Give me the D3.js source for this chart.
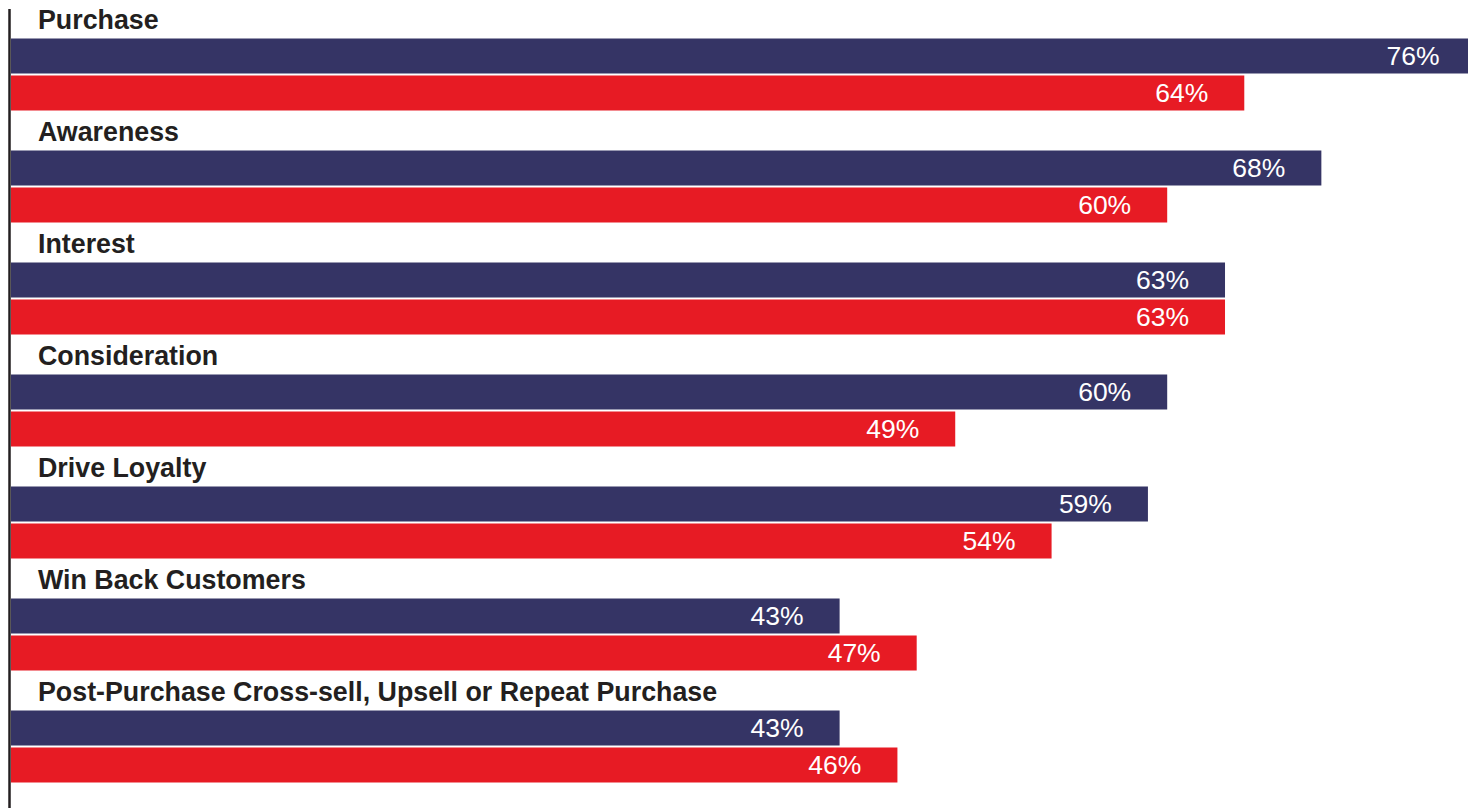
<!DOCTYPE html>
<html>
<head>
<meta charset="utf-8">
<script src="https://cdn.jsdelivr.net/npm/d3@7"></script>
<style>
  html, body { margin: 0; padding: 0; background: #ffffff; }
  svg { display: block; }
</style>
</head>
<body>
<script>
// Funnel stages and the share reported for each of the two series
const categories = [
  "Purchase",
  "Awareness",
  "Interest",
  "Consideration",
  "Drive Loyalty",
  "Win Back Customers",
  "Post-Purchase Cross-sell, Upsell or Repeat Purchase"
];
const seriesNames = ["Series 1", "Series 2"];
const series1Values = [76, 68, 63, 60, 59, 43, 43];
const series2Values = [64, 60, 63, 49, 54, 47, 46];
const seriesColors = ["#353465", "#e71b24"];

const width = 1468, height = 808;

const svg = d3.select("body").append("svg")
  .attr("width", width)
  .attr("height", height);

const x = d3.scaleLinear().domain([0, 100]).range([11, 11 + 1927]);

const y = d3.scaleBand()
  .domain(categories)
  .range([38.5, 38.5 + 112 * categories.length])
  .paddingInner(0)
  .paddingOuter(0);

const ySeries = d3.scaleBand()
  .domain(seriesNames)
  .range([0, 72])
  .paddingInner(2 / 37)
  .paddingOuter(0);

const rows = categories.map((c, i) => ({
  category: c,
  values: [
    { name: seriesNames[0], value: series1Values[i] },
    { name: seriesNames[1], value: series2Values[i] }
  ]
}));

const groups = svg.selectAll("g.group")
  .data(rows)
  .join("g")
  .attr("class", "group")
  .attr("transform", d => `translate(0,${y(d.category)})`);

// Stage name above each pair of bars
groups.append("text")
  .attr("x", 38)
  .attr("y", -9.5)
  .attr("font-family", "'Liberation Sans', Arial, Helvetica, sans-serif")
  .attr("font-weight", "bold")
  .attr("font-size", 26.8)
  .attr("fill", "#231f20")
  .text(d => d.category);

const bars = groups.selectAll("g.bar")
  .data(d => d.values)
  .join("g")
  .attr("class", "bar");

bars.append("rect")
  .attr("x", x(0))
  .attr("y", d => ySeries(d.name))
  .attr("width", d => x(d.value) - x(0))
  .attr("height", ySeries.bandwidth())
  .attr("fill", (d, i) => seriesColors[i]);

// Value labels inside the bar ends
bars.append("text")
  .attr("x", d => x(d.value) - 36)
  .attr("y", d => ySeries(d.name) + ySeries.bandwidth() / 2 + 9)
  .attr("text-anchor", "end")
  .attr("font-family", "'Liberation Sans', Arial, Helvetica, sans-serif")
  .attr("font-size", 26.5)
  .attr("fill", "#ffffff")
  .text(d => d.value + "%");

// Vertical baseline axis
svg.append("line")
  .attr("x1", 9.5)
  .attr("x2", 9.5)
  .attr("y1", 9)
  .attr("y2", height)
  .attr("stroke", "#231f20")
  .attr("stroke-width", 2.5);
</script>
</body>
</html>
